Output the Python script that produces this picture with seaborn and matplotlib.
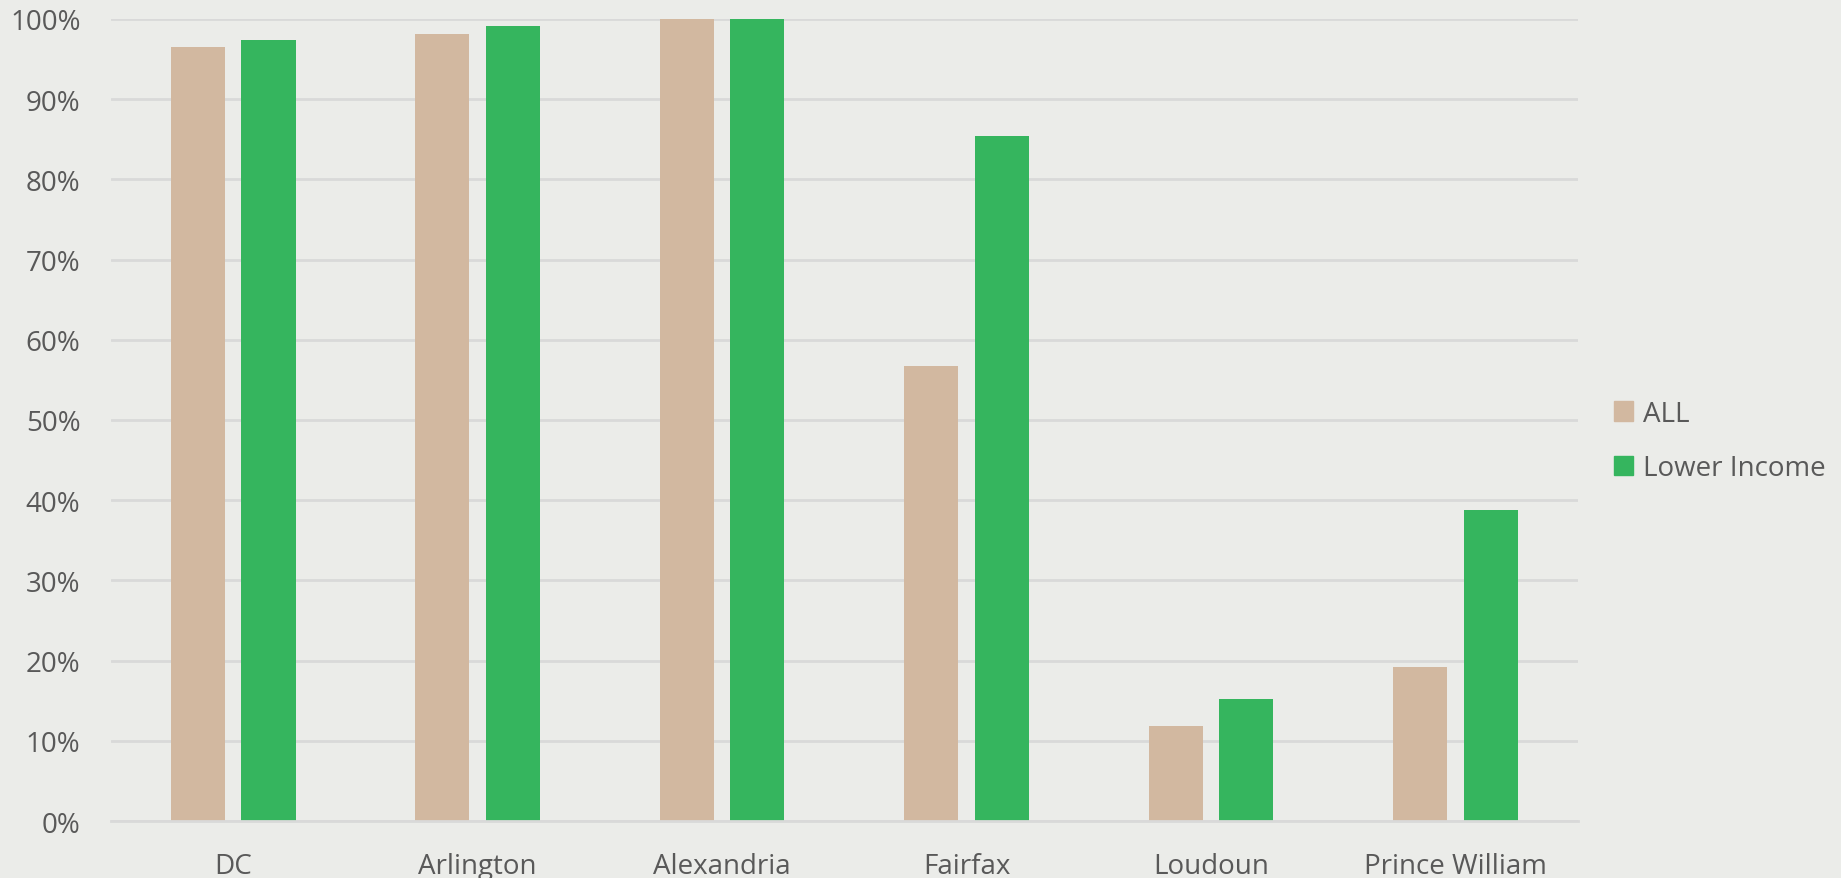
import matplotlib

matplotlib.use("Agg")
import matplotlib.pyplot as plt
import pandas as pd
import seaborn as sns
from matplotlib.patches import Patch
from matplotlib.ticker import FuncFormatter

regions = ["DC", "Arlington", "Alexandria", "Fairfax", "Loudoun", "Prince William"]
all_share = [96.5, 98.1, 100.0, 56.7, 11.9, 19.2]
lower_income_share = [97.4, 99.1, 100.0, 85.4, 15.2, 38.8]
series_names = ["ALL", "Lower Income"]

BG = "#EBECE9"
TAN = "#D2B8A0"
GREEN = "#35B55E"
TEXT = "#595959"
GRID = "#D9D9D9"

df = pd.DataFrame({
    "region": regions * 2,
    "series": [series_names[0]] * len(regions) + [series_names[1]] * len(regions),
    "share": all_share + lower_income_share,
})

sns.set_theme(style="white")
plt.rcParams["font.family"] = ["Open Sans", "DejaVu Sans"]

fig = plt.figure(figsize=(18.41, 8.79), dpi=100, facecolor=BG)
ax = fig.add_axes([0.0603, 0.0648, 0.7967, 0.9125], facecolor=BG)

sns.barplot(data=df, x="region", y="share", hue="series", order=regions,
            hue_order=series_names, palette=[TAN, GREEN], width=0.577,
            gap=0.233, saturation=1, linewidth=0, ax=ax, legend=False)

ax.set_ylim(0, 100)
ax.set_xlim(-0.5, len(regions) - 0.5)
ax.set_yticks(range(0, 101, 10))
ax.yaxis.set_major_formatter(FuncFormatter(lambda v, _: f"{v:.0f}%"))
ax.yaxis.grid(True, color=GRID, linewidth=2)
ax.set_axisbelow(True)
ax.set_xlabel("")
ax.set_ylabel("")
for side in ["top", "right", "left"]:
    ax.spines[side].set_visible(False)
ax.spines["bottom"].set_color(GRID)
ax.spines["bottom"].set_linewidth(2)
ax.tick_params(axis="x", length=0, pad=22, labelsize=20, labelcolor=TEXT)
ax.tick_params(axis="y", length=0, pad=22, labelsize=20, labelcolor=TEXT)

handles = [Patch(color=TAN), Patch(color=GREEN)]
fig.legend(handles, series_names, loc="center left",
           bbox_to_anchor=(0.863, 0.497, 0.13, 0.0), frameon=False,
           fontsize=20, labelcolor=TEXT, handlelength=0.7, handleheight=0.7,
           handletextpad=0.35, labelspacing=0.95)

fig.savefig("out.png", dpi=100, facecolor=BG)
